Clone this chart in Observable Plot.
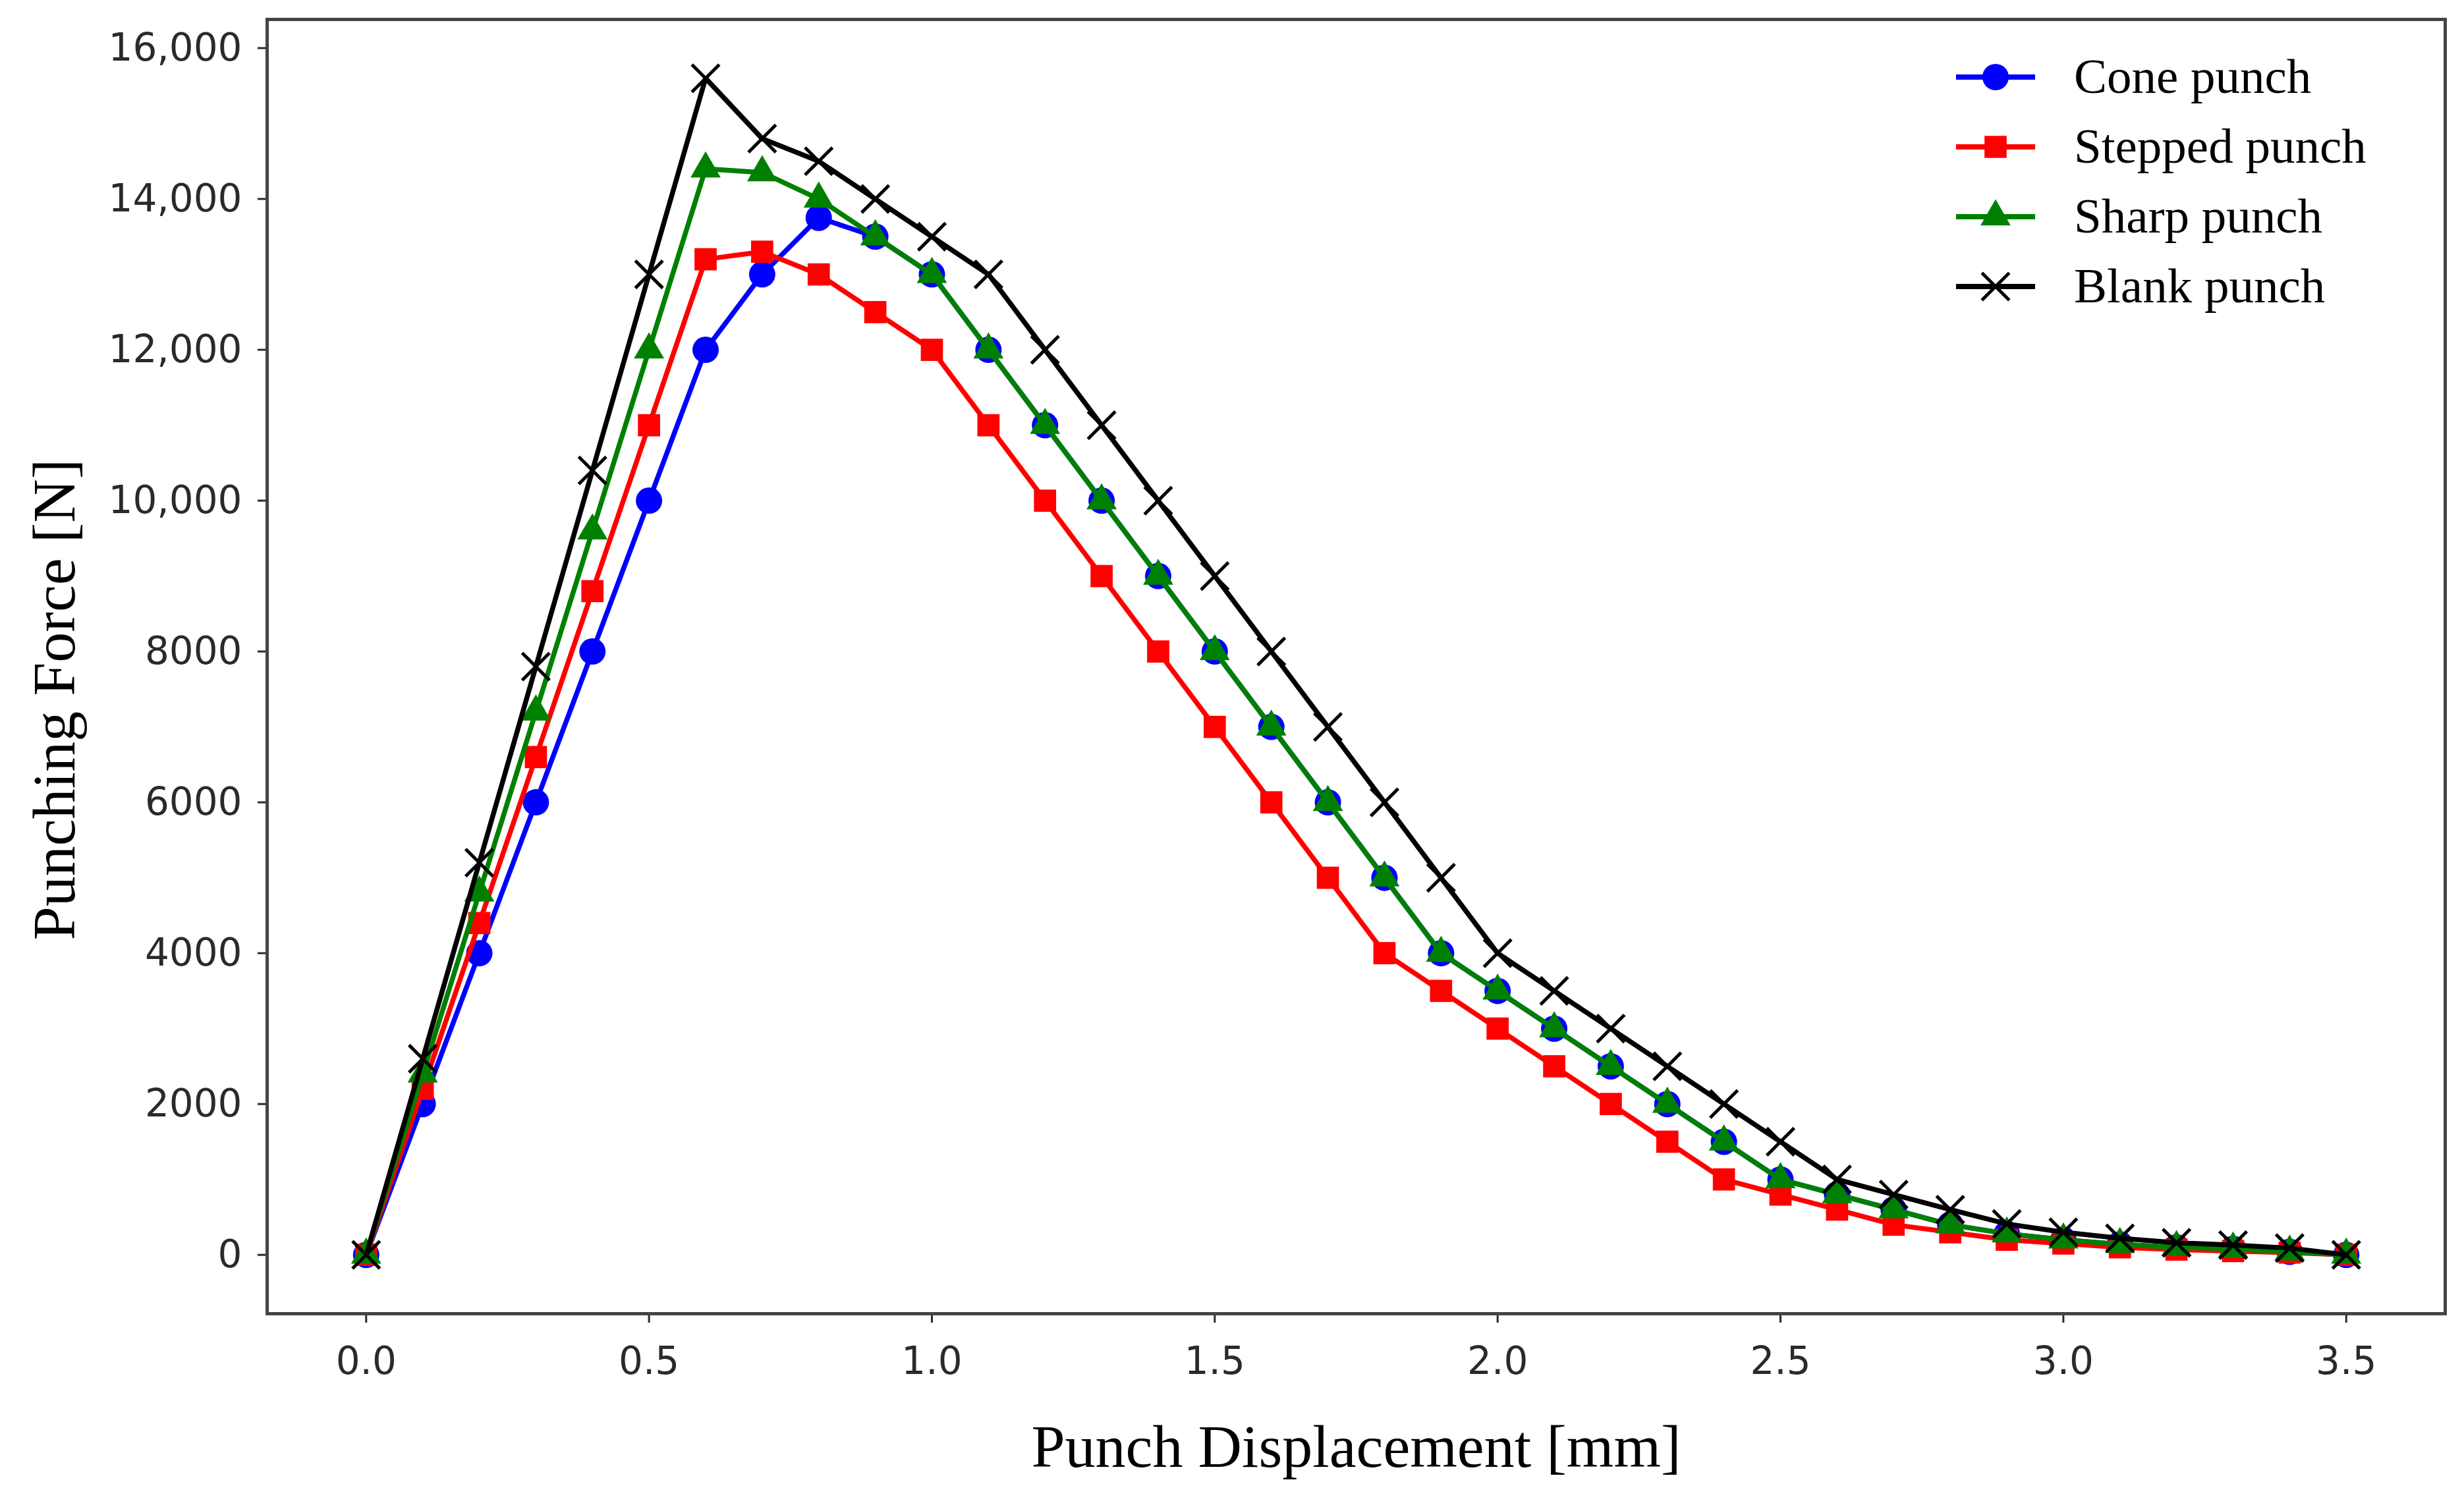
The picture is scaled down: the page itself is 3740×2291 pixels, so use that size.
<!DOCTYPE html>
<html>
<head>
<meta charset="utf-8">
<script src="https://cdn.jsdelivr.net/npm/d3@7"></script>
<script src="https://cdn.jsdelivr.net/npm/@observablehq/plot@0.6"></script>
<style>
  body { margin: 0; background: white; }
  #wrap { position: relative; width: 3740px; height: 2291px; }
  #legend { position: absolute; left: 2950px; top: 60px; }
</style>
</head>
<body>
<div id="wrap"><div id="chart"></div><svg id="legend" width="740" height="440"></svg></div>
<script>
// punch displacement (mm)
const disp = [0, 0.1, 0.2, 0.3, 0.4, 0.5, 0.6, 0.7, 0.8, 0.9, 1.0, 1.1, 1.2, 1.3, 1.4, 1.5, 1.6, 1.7,
  1.8, 1.9, 2.0, 2.1, 2.2, 2.3, 2.4, 2.5, 2.6, 2.7, 2.8, 2.9, 3.0, 3.1, 3.2, 3.3, 3.4, 3.5];

// punching force (N)
const cone = [0, 2000, 4000, 6000, 8000, 10000, 12000, 13000, 13750, 13500, 13000, 12000, 11000, 10000,
  9000, 8000, 7000, 6000, 5000, 4000, 3500, 3000, 2500, 2000, 1500, 1000, 800, 600, 400, 280, 200, 140, 100, 80, 40, 0];
const stepped = [0, 2200, 4400, 6600, 8800, 11000, 13200, 13300, 13000, 12500, 12000, 11000, 10000, 9000,
  8000, 7000, 6000, 5000, 4000, 3500, 3000, 2500, 2000, 1500, 1000, 800, 600, 400, 300, 200, 150, 100, 70, 50, 30, 0];
const sharp = [0, 2400, 4800, 7200, 9600, 12000, 14400, 14350, 14000, 13500, 13000, 12000, 11000, 10000,
  9000, 8000, 7000, 6000, 5000, 4000, 3500, 3000, 2500, 2000, 1500, 1000, 800, 600, 400, 280, 200, 140, 100, 80, 40, 0];
const blank = [0, 2600, 5200, 7800, 10400, 13000, 15600, 14800, 14500, 14000, 13500, 13000, 12000, 11000,
  10000, 9000, 8000, 7000, 6000, 5000, 4000, 3500, 3000, 2500, 2000, 1500, 1000, 800, 600, 410, 300, 220, 160, 130, 90, 0];

const seriesNames = ["Cone punch", "Stepped punch", "Sharp punch", "Blank punch"];
const xTicks = [0, 0.5, 1.0, 1.5, 2.0, 2.5, 3.0, 3.5];
const yTicks = [0, 2000, 4000, 6000, 8000, 10000, 12000, 14000, 16000];
const yTickLabels = ["0", "2000", "4000", "6000", "8000", "10,000", "12,000", "14,000", "16,000"];

const styles = [
  {color: "#0000ff", symbol: "circle", r: 20},
  {color: "#ff0000", symbol: "square", r: 19},
  {color: "#008000", symbol: "triangle", r: 17},
  {color: "#000000", symbol: "times", r: 19}
];

const values = [cone, stepped, sharp, blank];
const series = values.map((ys, k) => ys.map((y, i) => ({x: disp[i], y, name: seriesNames[k]})));

const serif = "Liberation Serif";

const marks = [];
series.forEach((data, k) => {
  const s = styles[k];
  marks.push(Plot.line(data, {x: "x", y: "y", stroke: s.color, strokeWidth: 7.5}));
  if (s.symbol === "times") {
    marks.push(Plot.dot(data, {x: "x", y: "y", symbol: "times", r: s.r, stroke: s.color, strokeWidth: 5}));
  } else {
    marks.push(Plot.dot(data, {x: "x", y: "y", symbol: s.symbol, r: s.r, fill: s.color}));
  }
});

const chart = Plot.plot({
  width: 3740,
  height: 2291,
  marginLeft: 405,
  marginRight: 29,
  marginTop: 29,
  marginBottom: 297,
  style: {fontFamily: "DejaVu Sans", fontSize: "58px", color: "#2a2a2a", background: "white"},
  x: {domain: [-0.175, 3.675]},
  y: {domain: [-780, 16380]},
  marks: [
    Plot.axisX({ticks: xTicks, tickFormat: d => d.toFixed(1), tickSize: 14, tickPadding: 36,
      strokeWidth: 3, label: null}),
    Plot.axisY({ticks: yTicks, tickFormat: d => yTickLabels[yTicks.indexOf(d)], tickSize: 14, tickPadding: 24,
      strokeWidth: 3, label: null}),
    ...marks,
    Plot.frame({stroke: "#444", strokeWidth: 5}),
    Plot.text(["Punching Force [N]"], {text: d => d, frameAnchor: "left", textAnchor: "middle", dx: -322, dy: 50,
      rotate: -90, fontFamily: serif, fontSize: 92, fill: "black"}),
    Plot.text(["Punch Displacement [mm]"], {text: d => d, frameAnchor: "bottom", dy: 232,
      fontFamily: serif, fontSize: 92, fill: "black"})
  ]
});
d3.select('#chart').append(() => chart);

// legend, top right inside the frame
const legend = d3.select('#legend');
const symbolTypes = {circle: d3.symbolCircle, square: d3.symbolSquare, triangle: d3.symbolTriangle, times: d3.symbolTimes};
seriesNames.forEach((name, k) => {
  const s = styles[k];
  const g = legend.append("g").attr("transform", `translate(0,${57 + k * 106})`);
  g.append("line").attr("x1", 19).attr("x2", 139).attr("stroke", s.color).attr("stroke-width", 8);
  const sym = g.append("path")
    .attr("transform", "translate(79,0)")
    .attr("d", d3.symbol(symbolTypes[s.symbol], s.r * s.r * Math.PI)());
  if (s.symbol === "times") sym.attr("fill", "none").attr("stroke", s.color).attr("stroke-width", 5);
  else sym.attr("fill", s.color);
  g.append("text").attr("x", 198).attr("dy", "0.32em")
    .attr("font-family", serif).attr("font-size", 75).text(name);
});
</script>
</body>
</html>
